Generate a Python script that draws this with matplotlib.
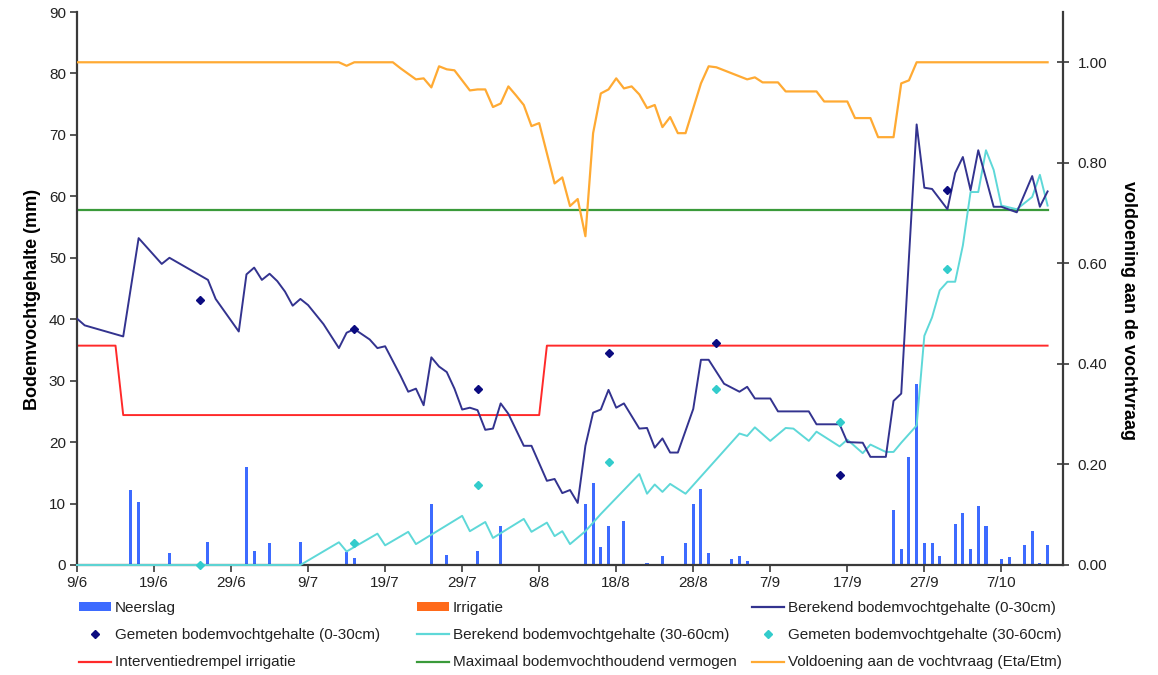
import matplotlib
matplotlib.use("Agg")
import matplotlib.pyplot as plt
from matplotlib.patches import Patch
from matplotlib.lines import Line2D

plt.rcParams['font.family'] = ['Liberation Sans', 'DejaVu Sans']

# ---- data (day 0 = 9 June) ----
tick_labels = ["9/6", "19/6", "29/6", "9/7", "19/7", "29/7", "8/8", "18/8",
               "28/8", "7/9", "17/9", "27/9", "7/10"]

rain_days = [7, 8, 12, 17, 22, 23, 25, 29, 35, 36, 46, 48, 52, 55, 66, 67, 68, 69,
             71, 72, 74, 75, 76, 79, 80, 81, 82, 85, 86, 87, 106, 107, 108, 109,
             110, 111, 112, 114, 115, 116, 117, 118, 119, 120, 121, 123, 124, 125, 126]
rain_mm = [12.2, 10.2, 2.0, 3.8, 15.9, 2.3, 3.5, 3.7, 2.1, 1.1, 9.9, 1.7, 2.3, 6.4,
           9.9, 13.4, 3.0, 6.3, 7.2, 0.1, 0.3, 0.2, 1.4, 3.5, 10.0, 12.3, 1.9, 1.0,
           1.4, 0.7, 8.9, 2.6, 17.6, 29.4, 3.5, 3.5, 1.5, 6.7, 8.5, 2.6, 9.6, 6.3,
           0.2, 0.9, 1.3, 3.2, 5.5, 0.3, 3.2]

irr_days = []
irr_mm = []

calc_top_days = [0, 1, 6, 8, 11, 12, 17, 18, 21, 22, 23, 24, 25, 26, 27, 28, 29, 30,
                 32, 34, 35, 36, 38, 39, 40, 42, 43, 44, 45, 46, 47, 48, 49, 50, 51,
                 52, 53, 54, 55, 56, 58, 59, 61, 62, 63, 64, 65, 66, 67, 68, 69, 70,
                 71, 73, 74, 75, 76, 77, 78, 80, 81, 82, 84, 86, 87, 88, 90, 91, 95,
                 96, 99, 100, 102, 103, 105, 106, 107, 108, 109, 110, 111, 113, 114,
                 115, 116, 117, 119, 120, 122, 124, 125, 126]
calc_top_mm = [40.1, 39.0, 37.2, 53.2, 49.0, 50.0, 46.4, 43.3, 38.0, 47.3, 48.4, 46.4,
               47.4, 46.2, 44.5, 42.2, 43.3, 42.3, 39.2, 35.3, 37.8, 38.4, 36.7, 35.3,
               35.6, 30.8, 28.2, 28.7, 26.0, 33.8, 32.3, 31.4, 28.7, 25.3, 25.6, 25.2,
               22.0, 22.2, 26.3, 24.6, 19.4, 19.4, 13.7, 14.0, 11.7, 12.2, 10.1, 19.4,
               24.8, 25.3, 28.5, 25.6, 26.3, 22.2, 22.3, 19.1, 20.6, 18.3, 18.3, 25.4,
               33.4, 33.4, 29.5, 28.2, 29.0, 27.1, 27.1, 25.0, 25.0, 22.9, 22.9, 20.0,
               19.9, 17.6, 17.6, 26.7, 27.9, 50.0, 71.7, 61.4, 61.2, 57.9, 63.8, 66.4,
               61.0, 67.5, 58.3, 58.3, 57.4, 63.3, 58.3, 60.8]

calc_sub_days = [0, 29, 34, 35, 39, 40, 43, 44, 50, 51, 53, 54, 58, 59, 61, 62, 63, 64,
                 66, 68, 73, 74, 75, 76, 77, 79, 86, 87, 88, 90, 92, 93, 95, 96, 99,
                 100, 102, 103, 105, 106, 107, 108, 109, 110, 111, 112, 113, 114, 115,
                 116, 117, 118, 119, 120, 122, 124, 125, 126]
calc_sub_mm = [0.0, 0.0, 3.7, 2.2, 5.1, 3.2, 5.4, 3.4, 8.0, 5.5, 7.0, 4.4, 7.5, 5.4,
               6.9, 4.7, 5.5, 3.4, 5.5, 8.3, 14.8, 11.6, 13.1, 11.9, 13.2, 11.6, 21.4,
               21.0, 22.4, 20.2, 22.3, 22.2, 20.2, 21.7, 19.3, 20.4, 18.2, 19.6, 18.4,
               18.4, 19.9, 21.3, 22.7, 37.3, 40.3, 44.7, 46.1, 46.1, 52.0, 60.7, 60.7,
               67.5, 64.3, 58.5, 57.9, 59.9, 63.5, 58.5]

meas_days = [16, 36, 52, 69, 83, 99, 113]
meas_top_mm = [43.2, 38.4, 28.7, 34.5, 36.2, 14.7, 61.0]
meas_sub_mm = [0.0, 3.6, 13.0, 16.8, 28.7, 23.2, 48.2]

threshold_days = [0, 5, 6, 60, 61, 126]
threshold_mm = [35.7, 35.7, 24.4, 24.4, 35.7, 35.7]

capacity_days = [0, 126]
capacity_mm = [57.8, 57.8]

ratio_days = [0, 34, 35, 36, 41, 42, 44, 45, 46, 47, 48, 49, 51, 52, 53, 54, 55, 56,
              57, 58, 59, 60, 62, 63, 64, 65, 66, 67, 68, 69, 70, 71, 72, 73, 74, 75,
              76, 77, 78, 79, 81, 82, 83, 85, 87, 88, 89, 91, 92, 96, 97, 100, 101,
              103, 104, 106, 107, 108, 109, 126]
ratio = [1.0, 1.0, 0.993, 1.0, 1.0, 0.988, 0.966, 0.968, 0.950, 0.992, 0.986, 0.984,
         0.944, 0.946, 0.946, 0.911, 0.918, 0.952, 0.934, 0.915, 0.873, 0.879, 0.759,
         0.771, 0.714, 0.728, 0.654, 0.859, 0.938, 0.946, 0.968, 0.948, 0.952, 0.936,
         0.909, 0.915, 0.871, 0.891, 0.859, 0.859, 0.958, 0.992, 0.990, 0.978, 0.966,
         0.970, 0.960, 0.960, 0.942, 0.942, 0.922, 0.922, 0.889, 0.889, 0.851, 0.851,
         0.958, 0.964, 1.0, 1.0]

# ---- colours ----
c_rain = "#3D6BFF"
c_irr = "#FF6A1A"
c_top = "#33338F"
c_top_pt = "#0B0B80"
c_sub = "#5ED8D8"
c_sub_pt = "#33CCCC"
c_thr = "#FF2A2A"
c_cap = "#3A9A3A"
c_ratio = "#FFAA33"
c_axis = "#3A3A3A"

W, H = 1158, 675
fig = plt.figure(figsize=(W / 100, H / 100), dpi=100)
ax = fig.add_axes([77 / W, 1 - 565 / H, (1063 - 77) / W, (565 - 12) / H])
ax2 = ax.twinx()

ax.bar(rain_days, rain_mm, width=0.4, color=c_rain, zorder=1)
ax.bar(irr_days, irr_mm, width=0.4, color=c_irr, zorder=1)
ax.plot(capacity_days, capacity_mm, color=c_cap, lw=1.6, zorder=2)
ax.plot(threshold_days, threshold_mm, color=c_thr, lw=1.4, zorder=2)
ax.plot(calc_sub_days, calc_sub_mm, color=c_sub, lw=1.4, zorder=3, clip_on=False)
ax.plot(calc_top_days, calc_top_mm, color=c_top, lw=1.4, zorder=3)
ax.plot(meas_days, meas_top_mm, ls="none", marker="D", ms=4.5, color=c_top_pt, zorder=4)
ax.plot(meas_days, meas_sub_mm, ls="none", marker="D", ms=4.5, color=c_sub_pt,
        zorder=4, clip_on=False)
ax2.plot(ratio_days, ratio, color=c_ratio, lw=1.6, zorder=3)

ax.set_xlim(0, 128)
ax.set_ylim(0, 90)
ax2.set_ylim(0, 1.1)

ax.set_xticks(range(0, 121, 10))
ax.set_xticklabels(tick_labels)
ax.set_yticks(range(0, 91, 10))
ax2.set_yticks([0, 0.2, 0.4, 0.6, 0.8, 1.0])
ax2.set_yticklabels([f"{v:.2f}" for v in [0, 0.2, 0.4, 0.6, 0.8, 1.0]])

for a in (ax, ax2):
    a.spines["top"].set_visible(False)
    for s in a.spines.values():
        s.set_color(c_axis)
        s.set_linewidth(1.6)
ax.spines["right"].set_visible(False)
ax2.spines["left"].set_visible(False)
ax2.spines["bottom"].set_visible(False)

ax.tick_params(axis="both", direction="out", length=5, width=1.2, color=c_axis,
               labelsize=11, labelcolor="#222222", pad=3)
ax2.tick_params(axis="y", direction="inout", length=9, width=1.2, color=c_axis,
                labelsize=11, labelcolor="#222222", pad=6)

ax.set_ylabel("Bodemvochtgehalte (mm)", fontsize=13, fontweight="bold")
ax.yaxis.set_label_coords(-0.037, 0.48)
ax2.set_ylabel("voldoening aan de vochtvraag", fontsize=13, fontweight="bold",
               rotation=270, va="center")
ax2.yaxis.set_label_coords(1.066, 0.46)

# ---- legend, three columns under the plot ----
h_rain = Patch(facecolor=c_rain)
h_irr = Patch(facecolor=c_irr)
h_top = Line2D([], [], color=c_top, lw=1.6)
h_top_pt = Line2D([], [], ls="none", marker="D", ms=4, color=c_top_pt)
h_sub = Line2D([], [], color=c_sub, lw=1.6)
h_sub_pt = Line2D([], [], ls="none", marker="D", ms=4, color=c_sub_pt)
h_thr = Line2D([], [], color=c_thr, lw=1.6)
h_cap = Line2D([], [], color=c_cap, lw=1.6)
h_ratio = Line2D([], [], color=c_ratio, lw=1.6)

columns = [
    (79, [h_rain, h_top_pt, h_thr],
     ["Neerslag", "Gemeten bodemvochtgehalte (0-30cm)", "Interventiedrempel irrigatie"]),
    (417, [h_irr, h_sub, h_cap],
     ["Irrigatie", "Berekend bodemvochtgehalte (30-60cm)",
      "Maximaal bodemvochthoudend vermogen"]),
    (752, [h_top, h_sub_pt, h_ratio],
     ["Berekend bodemvochtgehalte (0-30cm)", "Gemeten bodemvochtgehalte (30-60cm)",
      "Voldoening aan de vochtvraag (Eta/Etm)"]),
]
for x0, hs, ls in columns:
    leg = fig.legend(hs, ls, loc="upper left", bbox_to_anchor=(x0 / W, 1 - 601 / H),
                     frameon=False, fontsize=11, handlelength=2.1, handleheight=0.45,
                     handletextpad=0.25, labelspacing=0.86, borderaxespad=0,
                     borderpad=0)
    for t in leg.get_texts():
        t.set_color("#222222")

fig.savefig("out.png", dpi=100)
